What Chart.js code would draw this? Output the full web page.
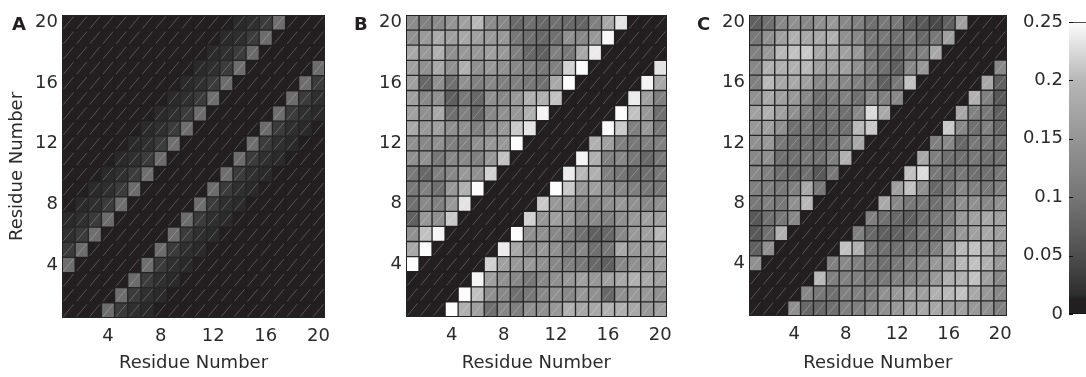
<!DOCTYPE html>
<html><head><meta charset="utf-8">
<script src="https://cdn.jsdelivr.net/npm/chart.js@4.4.1/dist/chart.umd.min.js"></script>
<style>
html,body{margin:0;padding:0;background:#fff;width:1086px;height:377px;overflow:hidden;position:relative;}
canvas{position:absolute;top:0;}
.lbl{position:absolute;font:bold 18px "DejaVu Sans",Arial,sans-serif;line-height:20px;color:#231f20;}
</style></head><body>
<canvas id="cA" width="340" height="377" style="left:0px"></canvas>
<canvas id="cB" width="340" height="377" style="left:340px"></canvas>
<canvas id="cC" width="340" height="377" style="left:680px"></canvas>
<canvas id="cBar" width="110" height="377" style="left:1000px"></canvas>
<div class="lbl" style="left:12px;top:14px">A</div>
<div class="lbl" style="left:354px;top:14px">B</div>
<div class="lbl" style="left:697px;top:14px">C</div>
<script>
// ---- data ----
const residues = [1,2,3,4,5,6,7,8,9,10,11,12,13,14,15,16,17,18,19,20];
const tickResidues = [4,8,12,16,20];
const colorbarTicks = [0,0.05,0.1,0.15,0.2,0.25];
const axisTitle = 'Residue Number';
// colormap (value -> gray level)
const cmapValues = [0,0.013,0.016,0.05,0.1,0.15,0.2,0.25];
const cmapGrays  = [35,35,45,78,118,149,183,252];

// matrices: first row = residue 20 (top), last row = residue 1 (bottom)
const panelA = [
[0,0,0,0,0,0,0,0,0,0,0,0,0,.015,.018,.03,.09,0,0,0],
[0,0,0,0,0,0,0,0,0,0,0,0,.015,.018,.03,.088,0,0,0,0],
[0,0,0,0,0,0,0,0,0,0,0,.015,.018,.03,.085,0,0,0,0,0],
[0,0,0,0,0,0,0,0,0,0,.015,.018,.03,.09,0,0,0,0,0,.088],
[0,0,0,0,0,0,0,0,0,.015,.018,.03,.087,0,0,0,0,0,.09,.03],
[0,0,0,0,0,0,0,0,.015,.018,.03,.09,0,0,0,0,0,.088,.03,.018],
[0,0,0,0,0,0,0,.015,.018,.03,.088,0,0,0,0,0,.09,.03,.018,.015],
[0,0,0,0,0,0,.015,.018,.03,.09,0,0,0,0,0,.087,.03,.018,.015,0],
[0,0,0,0,0,.015,.018,.03,.092,0,0,0,0,0,.09,.03,.018,.015,0,0],
[0,0,0,0,.015,.018,.03,.087,0,0,0,0,0,.088,.03,.018,.015,0,0,0],
[0,0,0,.015,.018,.03,.09,0,0,0,0,0,.09,.03,.018,.015,0,0,0,0],
[0,0,.015,.018,.03,.088,0,0,0,0,0,.087,.03,.018,.015,0,0,0,0,0],
[0,.015,.018,.03,.09,0,0,0,0,0,.09,.03,.018,.015,0,0,0,0,0,0],
[.015,.018,.03,.087,0,0,0,0,0,.088,.03,.018,.015,0,0,0,0,0,0,0],
[.018,.03,.09,0,0,0,0,0,.09,.03,.018,.015,0,0,0,0,0,0,0,0],
[.03,.088,0,0,0,0,0,.087,.03,.018,.015,0,0,0,0,0,0,0,0,0],
[.09,0,0,0,0,0,.09,.03,.018,.015,0,0,0,0,0,0,0,0,0,0],
[0,0,0,0,0,.088,.03,.018,.015,0,0,0,0,0,0,0,0,0,0,0],
[0,0,0,0,.09,.03,.018,.015,0,0,0,0,0,0,0,0,0,0,0,0],
[0,0,0,.087,.03,.018,.015,0,0,0,0,0,0,0,0,0,0,0,0,0]
];
const panelB = [
[.135,.116,.132,.15,.166,.201,.135,.129,.085,.092,.082,.092,.085,.08,.116,.178,.232,0,0,0],
[.142,.157,.181,.166,.178,.166,.157,.154,.103,.092,.082,.092,.142,.129,.154,.247,0,0,0,0],
[.178,.154,.19,.142,.154,.154,.166,.154,.116,.082,.072,.116,.103,.178,.238,0,0,0,0,0],
[.166,.142,.178,.142,.19,.142,.154,.142,.129,.116,.103,.116,.219,.25,0,0,0,0,0,.232],
[.166,.082,.142,.092,.142,.116,.129,.116,.116,.103,.092,.178,.25,0,0,0,0,0,.244,.178],
[.166,.129,.142,.072,.103,.082,.142,.129,.154,.19,.19,.207,0,0,0,0,0,.238,.166,.116],
[.166,.142,.178,.092,.116,.082,.129,.142,.154,.19,.244,0,0,0,0,0,.25,.207,.154,.092],
[.178,.154,.166,.142,.142,.116,.142,.154,.213,.232,0,0,0,0,0,.25,.213,.116,.154,.103],
[.142,.129,.142,.116,.116,.142,.154,.154,.25,0,0,0,0,0,.19,.166,.116,.103,.116,.116],
[.142,.142,.103,.129,.129,.116,.154,.207,0,0,0,0,0,.244,.19,.116,.129,.103,.082,.103],
[.103,.082,.116,.129,.154,.142,.219,0,0,0,0,0,.238,.201,.19,.116,.103,.082,.092,.103],
[.103,.116,.092,.154,.19,.25,0,0,0,0,0,.25,.213,.154,.166,.142,.129,.116,.103,.103],
[.092,.129,.116,.154,.232,0,0,0,0,0,.213,.154,.154,.129,.129,.142,.154,.142,.129,.142],
[.072,.154,.142,.213,0,0,0,0,0,.219,.154,.166,.154,.129,.129,.116,.142,.154,.166,.166],
[.142,.207,.244,0,0,0,0,0,.25,.142,.142,.129,.116,.092,.072,.082,.129,.154,.166,.201],
[.178,.25,0,0,0,0,0,.238,.178,.142,.154,.142,.116,.129,.092,.103,.178,.154,.166,.178],
[.25,0,0,0,0,0,.219,.166,.154,.154,.142,.129,.116,.103,.082,.072,.129,.142,.154,.166],
[0,0,0,0,0,.244,.166,.142,.129,.103,.129,.142,.154,.166,.154,.166,.178,.19,.178,.166],
[0,0,0,0,.25,.207,.142,.129,.092,.103,.129,.142,.129,.154,.142,.082,.142,.154,.154,.142],
[0,0,0,.25,.19,.166,.092,.129,.116,.142,.142,.154,.19,.178,.178,.19,.19,.178,.154,.166]
];
const panelC = [
[.072,.092,.129,.142,.129,.142,.154,.129,.116,.092,.103,.103,.072,.062,.045,.072,.166,0,0,0],
[.103,.142,.166,.19,.178,.178,.19,.142,.129,.103,.103,.092,.103,.082,.103,.166,0,0,0,0],
[.116,.154,.201,.207,.213,.178,.178,.166,.154,.103,.092,.082,.103,.116,.178,0,0,0,0,0],
[.129,.19,.19,.19,.201,.166,.166,.166,.142,.116,.092,.072,.129,.154,0,0,0,0,0,.129],
[.116,.201,.178,.178,.166,.129,.142,.129,.116,.103,.072,.103,.207,0,0,0,0,0,.178,.072],
[.142,.178,.166,.154,.129,.092,.103,.116,.092,.129,.116,.129,0,0,0,0,0,.19,.116,.062],
[.166,.19,.166,.142,.116,.092,.103,.092,.129,.226,.178,0,0,0,0,0,.178,.116,.103,.072],
[.154,.166,.142,.092,.103,.082,.092,.092,.201,.213,0,0,0,0,0,.213,.129,.092,.116,.082],
[.142,.154,.103,.092,.092,.082,.092,.116,.178,0,0,0,0,0,.116,.129,.082,.103,.103,.092],
[.129,.142,.092,.092,.103,.092,.116,.19,0,0,0,0,0,.178,.116,.092,.092,.103,.092,.092],
[.129,.116,.092,.082,.092,.062,.103,0,0,0,0,0,.207,.226,.103,.092,.103,.092,.092,.103],
[.116,.116,.103,.116,.178,.103,0,0,0,0,0,.166,.207,.142,.082,.103,.129,.116,.103,.116],
[.103,.116,.103,.142,.201,0,0,0,0,0,.178,.129,.103,.103,.092,.116,.142,.142,.129,.142],
[.062,.092,.103,.129,0,0,0,0,0,.116,.092,.082,.072,.092,.103,.116,.154,.166,.178,.166],
[.062,.092,.19,0,0,0,0,0,.116,.082,.072,.072,.082,.103,.092,.129,.154,.166,.178,.166],
[.072,.142,0,0,0,0,0,.207,.19,.103,.092,.092,.103,.103,.116,.166,.201,.207,.19,.154],
[.142,0,0,0,0,0,.116,.129,.116,.103,.092,.103,.116,.129,.154,.166,.201,.207,.19,.154],
[0,0,0,0,0,.201,.116,.116,.116,.103,.103,.116,.116,.129,.154,.19,.19,.207,.166,.129],
[0,0,0,0,.129,.103,.092,.116,.116,.116,.142,.154,.166,.166,.19,.201,.207,.178,.154,.129],
[0,0,0,.142,.082,.082,.092,.116,.116,.129,.142,.154,.166,.178,.178,.166,.166,.154,.142,.116]
];

// ---- styling ----
const FONT = {family:'"DejaVu Sans", "Liberation Sans", Arial, sans-serif', size:18};
const TXT = '#2a2a2a';
const ZERO = 'rgb(35,31,32)';
const GRIDLINE = 'rgb(40,38,39)';

function colorFor(v){
  if (v <= cmapValues[1]) return ZERO;
  for (let i = 1; i < cmapValues.length - 1; i++) {
    if (v <= cmapValues[i+1]) {
      const t = (v - cmapValues[i]) / (cmapValues[i+1] - cmapValues[i]);
      const g = Math.round(cmapGrays[i] + t * (cmapGrays[i+1] - cmapGrays[i]));
      return `rgb(${g},${g},${g})`;
    }
  }
  const g = cmapGrays[cmapGrays.length-1];
  return `rgb(${g},${g},${g})`;
}
function borderFor(v){ return v <= cmapValues[1] ? ZERO : GRIDLINE; }

const diagPlugin = {
  id:'diag',
  beforeDatasetsDraw(chart){
    const ctx = chart.ctx, a = chart.chartArea;
    ctx.save(); ctx.fillStyle = ZERO;
    ctx.fillRect(a.left, a.top, a.right - a.left, a.bottom - a.top);
    ctx.restore();
  },
  afterDatasetsDraw(chart){
    const ctx = chart.ctx; ctx.save();
    ctx.beginPath();
    chart.data.datasets.forEach((ds, i) => {
      chart.getDatasetMeta(i).data.forEach(el => {
        const p = el.getProps(['x','y','base','width'], true);
        const l = p.x - p.width/2, r = p.x + p.width/2;
        const top = Math.min(p.y, p.base), bot = Math.max(p.y, p.base);
        ctx.moveTo(l + 1.5, bot - 1.5); ctx.lineTo(r - 1.5, top + 1.5);
      });
    });
    ctx.strokeStyle = 'rgba(255,255,255,0.34)';
    ctx.lineWidth = 0.7;
    ctx.stroke();
    const a = chart.chartArea;
    ctx.strokeStyle = '#262324'; ctx.lineWidth = 1;
    ctx.strokeRect(Math.round(a.left)+0.5, Math.round(a.top)+0.5, Math.round(a.right-a.left)-1, Math.round(a.bottom-a.top)-1);
    ctx.restore();
  }
};

function heatChart(id, matrix, o){
  const datasets = residues.map(r => ({
    label: 'Residue ' + r,
    data: residues.map(() => [r - 0.5, r + 0.5]),
    backgroundColor: matrix[residues.length - r].map(colorFor),
    borderColor: matrix[residues.length - r].map(borderFor),
    borderWidth: 1,
    borderSkipped: false,
    barPercentage: 1,
    categoryPercentage: 1,
    grouped: false
  }));
  return new Chart(document.getElementById(id), {
    type:'bar',
    data:{labels: residues.map(String), datasets},
    plugins:[diagPlugin],
    options:{
      responsive:false, animation:false, events:[],
      layout:{padding:{left:0, right:o.padRight, top:15, bottom:0}},
      plugins:{legend:{display:false}, tooltip:{enabled:false}},
      scales:{
        x:{
          type:'category', offset:true,
          grid:{display:false, drawTicks:false}, border:{display:false},
          ticks:{autoSkip:false, maxRotation:0, minRotation:0, padding:8, color:TXT, font:FONT,
            callback(v, i){ const n = residues[i]; return tickResidues.includes(n) ? String(n) : null; }},
          title:{display:true, text:axisTitle, color:TXT, font:FONT, padding:{top:0, bottom:3}},
          afterFit(s){ s.height = o.xHeight; }
        },
        y:{
          type:'linear', min:0.5, max:20.5,
          grid:{display:false, drawTicks:false}, border:{display:false},
          ticks:{padding:4, color:TXT, font:FONT},
          afterBuildTicks(s){ s.ticks = tickResidues.map(v => ({value:v})); },
          title:{display:o.yTitle, text:axisTitle, color:TXT, font:FONT, padding:{top:7, bottom:0}},
          afterFit(s){ s.width = o.yWidth; }
        }
      }
    }
  });
}

heatChart('cA', panelA, {padRight:15, yWidth:62, xHeight:59, yTitle:true});
heatChart('cB', panelB, {padRight:13, yWidth:66, xHeight:60, yTitle:false});
heatChart('cC', panelC, {padRight:10, yWidth:69, xHeight:61, yTitle:false});

// ---- colorbar ----
const cbTickPlugin = {
  id:'cbticks',
  afterDatasetsDraw(chart){
    const ctx = chart.ctx, y = chart.scales.y, a = chart.chartArea;
    ctx.save(); ctx.strokeStyle = '#111'; ctx.lineWidth = 1; ctx.beginPath();
    colorbarTicks.forEach(v => {
      const py = Math.round(y.getPixelForValue(v)) + 0.5;
      ctx.moveTo(a.left, py); ctx.lineTo(a.left + 4, py);
    });
    ctx.stroke(); ctx.restore();
  }
};
new Chart(document.getElementById('cBar'), {
  type:'bar',
  data:{labels:[''], datasets:[{
    data:[[colorbarTicks[0], colorbarTicks[colorbarTicks.length-1]]],
    backgroundColor(ctx){
      const chart = ctx.chart; const ys = chart.scales.y;
      if (!ys || !chart.chartArea) return '#888';
      const vmax = colorbarTicks[colorbarTicks.length-1];
      const g = chart.ctx.createLinearGradient(0, ys.getPixelForValue(0), 0, ys.getPixelForValue(vmax));
      g.addColorStop(0, ZERO);
      g.addColorStop(cmapValues[1]/vmax, ZERO);
      for (let i = 2; i < cmapValues.length; i++) g.addColorStop(cmapValues[i]/vmax, colorFor(cmapValues[i]));
      return g;
    },
    borderColor:'#111', borderWidth:1, borderSkipped:false,
    barPercentage:1, categoryPercentage:1
  }]},
  plugins:[cbTickPlugin],
  options:{
    responsive:false, animation:false, events:[],
    layout:{padding:{left:0, right:0, top:22, bottom:63}},
    plugins:{legend:{display:false}, tooltip:{enabled:false}},
    scales:{
      x:{display:false, offset:false},
      y:{min:0, max:0.25,
        grid:{display:false, drawTicks:false}, border:{display:false},
        ticks:{padding:6, color:TXT, font:FONT, callback:v => String(v)},
        afterBuildTicks(s){ s.ticks = colorbarTicks.map(v => ({value:v})); },
        afterFit(s){ s.width = 69; }
      }
    }
  }
});
</script>
</body></html>
